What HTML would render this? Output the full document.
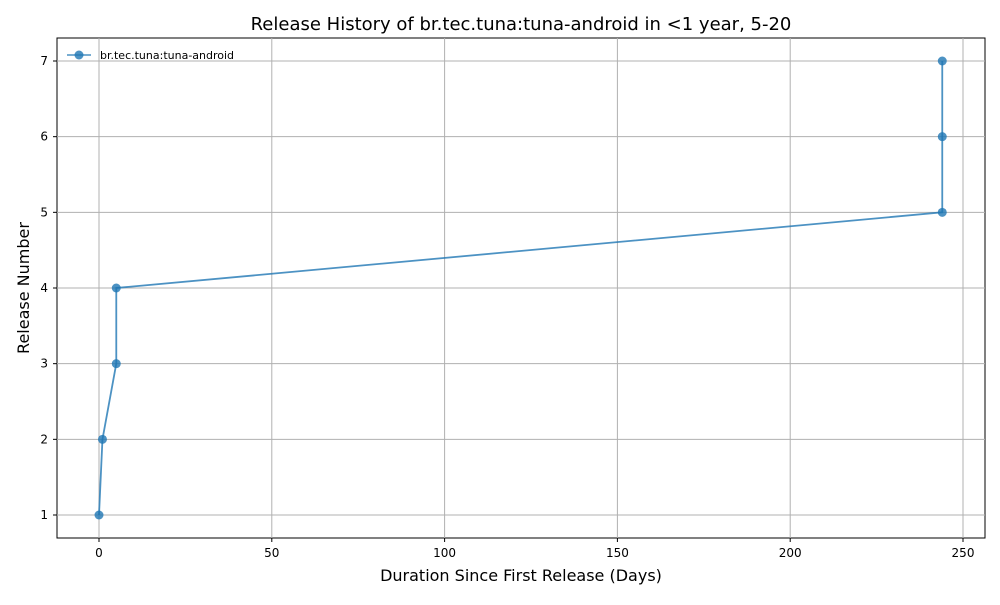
<!DOCTYPE html>
<html><head><meta charset="utf-8"><style>
body{margin:0;background:#fff;font-family:"Liberation Sans","DejaVu Sans",sans-serif;}
svg text{font-family:"DejaVu Sans","Liberation Sans",sans-serif;}
</style></head><body>
<svg id="chart" width="1000" height="600">
<rect x="57" y="38" width="928" height="500" fill="none" stroke="#000" stroke-width="1"/>
<g id="grid"></g><g id="ticks"></g><g id="series"></g>
<text x="521" y="30" text-anchor="middle" font-size="18">Release History of br.tec.tuna:tuna-android in &lt;1 year, 5-20</text>
<text x="521" y="581" text-anchor="middle" font-size="16">Duration Since First Release (Days)</text>
<text x="29" y="288" text-anchor="middle" font-size="16" transform="rotate(-90 29 288)">Release Number</text>
<g>
<line x1="67" y1="55" x2="91" y2="55" stroke="#1f77b4" stroke-opacity="0.8" stroke-width="1.5"/>
<circle cx="79" cy="55" r="4.5" fill="#1f77b4" fill-opacity="0.8"/>
<text x="100" y="59" font-size="11">br.tec.tuna:tuna-android</text>
</g>
</svg>
<script>
const days=[0,1,5,5,244,244,244];
const releases=[1,2,3,4,5,6,7];
const xTicks=[0,50,100,150,200,250];
const yTicks=[1,2,3,4,5,6,7];
const NS="http://www.w3.org/2000/svg";
const xs=d=>99+d*(864/250);
const ys=v=>515-(v-1)*(454/6);
function mk(tag,attrs,parent){const e=document.createElementNS(NS,tag);for(const k in attrs)e.setAttribute(k,attrs[k]);document.getElementById(parent).appendChild(e);return e;}
xTicks.forEach(t=>{const x=xs(t);
const g=mk('line',{x1:x,x2:x,y1:38,y2:538,stroke:'#b0b0b0','stroke-width':1},'grid');


mk('line',{x1:x,x2:x,y1:538,y2:542,stroke:'#000'},'ticks');
const tx=mk('text',{x:x,y:557,'text-anchor':'middle','font-size':12},'ticks');tx.textContent=t;

});
yTicks.forEach(t=>{const y=ys(t);
const g=mk('line',{x1:57,x2:985,y1:y,y2:y,stroke:'#b0b0b0','stroke-width':1},'grid');


mk('line',{x1:53,x2:57,y1:y,y2:y,stroke:'#000'},'ticks');
const tx=mk('text',{x:48,y:y+4,'text-anchor':'end','font-size':12},'ticks');tx.textContent=t;

});
const pts=days.map((d,i)=>xs(d)+','+ys(releases[i])).join(' ');
const pl=mk('polyline',{points:pts,fill:'none',stroke:'#1f77b4','stroke-opacity':0.8,'stroke-width':1.8},'series');


days.forEach((d,i)=>{const c=mk('circle',{cx:xs(d),cy:ys(releases[i]),r:4.5,fill:'#1f77b4','fill-opacity':0.8},'series');

});
</script>
</body></html>
